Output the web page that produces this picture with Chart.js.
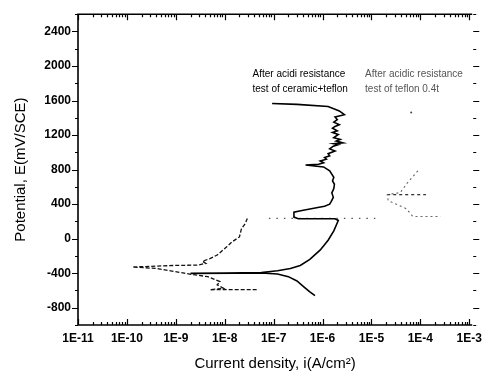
<!DOCTYPE html>
<html>
<head>
<meta charset="utf-8">
<script src="https://cdn.jsdelivr.net/npm/chart.js@4/dist/chart.umd.min.js"></script>
<style>
  html, body { margin: 0; padding: 0; background: #fff; }
  #wrap { width: 488px; height: 377px; }
</style>
</head>
<body>
<div id="wrap"><canvas id="chart"></canvas></div>
<script>
// ceramic+teflon curve (solid)
var ceramicCurrent = [7e-7, 5.5e-7, 4.2e-7, 3e-7, 2e-7, 1.2e-7, 5.6e-8, 1.5e-8, 2e-9, 1e-8, 5.6e-8,
    1.2e-7, 2.2e-7, 3.5e-7, 5.5e-7, 9e-7, 1.3e-6, 1.7e-6, 2.1e-6, 1.8e-6, 8e-7, 3.2e-7, 2.6e-7, 2.6e-7, 3.8e-7, 8e-7,
    1.1e-6, 1.4e-6, 1.5e-6, 1.66e-6, 1.55e-6, 1.7e-6, 1.75e-6, 1.6e-6, 1.7e-6, 1.4e-6, 1.05e-6,
    4.5e-7, 8.3e-7, 1.05e-6, 9e-7, 1.2e-6, 1.1e-6, 1.4e-6, 1.3e-6,
    1.8e-6, 1.4e-6, 1.66e-6, 2.1e-6, 1.7e-6, 2.6e-6, 1.9e-6, 2.3e-6, 1.7e-6, 2.1e-6, 1.6e-6,
    2.0e-6, 1.6e-6, 1.8e-6, 2.2e-6, 1.7e-6, 2.0e-6, 1.8e-6,
    2.8e-6, 2.2e-6, 1.3e-6, 3e-7, 9.3e-8];
var ceramicPotential = [-661, -615, -560, -490, -440, -410, -398, -400, -402, -397, -392,
    -372, -345, -310, -240, -130, -18, 90, 211, 231, 231, 231, 250, 307, 326, 360,
    375, 400, 430, 479, 530, 580, 630, 670, 710, 785, 831,
    854, 862, 880, 900, 920, 940, 960, 985,
    1015, 1040, 1072, 1090, 1100, 1110, 1130, 1150, 1170, 1207, 1230,
    1250, 1280, 1300, 1320, 1350, 1380, 1410,
    1436, 1480, 1531, 1555, 1566];

// teflon 0.4t curve (dashed), left part
var teflonCurrent = [4.5e-8, 9.5e-9, 5e-9, 9.5e-9, 7e-9, 8e-9, 4.5e-9, 2.5e-9, 1.5e-9, 4e-10,
    1.3e-10, 1e-9, 2.8e-9, 4.1e-9, 3.5e-9, 5.1e-9, 7e-9, 1.1e-8, 1.4e-8, 2e-8, 2.2e-8, 2.6e-8, 2.9e-8];
var teflonPotential = [-590, -590, -592, -575, -535, -497, -440, -420, -400, -345,
    -328, -310, -306, -286, -262, -229, -190, -95, -38, 20, 116, 170, 234];

// current jump of the teflon curve (dotted)
var jumpCurrent = [8e-8, 1.2e-5];
var jumpPotential = [235, 235];

// teflon curve, right part (grey)
var rightCurrent = [8.9e-5, 5.5e-5, 3.9e-5, 2.1e-5, 2.2e-5, 5.2e-5, 7e-5, 2.6e-4];
var rightPotential = [786, 650, 534, 510, 441, 346, 257, 257];
var shelfCurrent = [2.1e-5, 1.3e-4];
var shelfPotential = [510, 510];
var dotCurrent = [6.5e-5];
var dotPotential = [1462];

var xTickValues = [1e-11, 1e-10, 1e-9, 1e-8, 1e-7, 1e-6, 1e-5, 1e-4, 1e-3];
var yTickValues = [-800, -400, 0, 400, 800, 1200, 1600, 2000, 2400];

var FONT = '"Liberation Sans", Arial, sans-serif';

function pairs(xs, ys) {
    return xs.map(function (x, i) { return { x: x, y: ys[i] }; });
}

// frame, inward/outward tick marks and the two labels
var framePlugin = {
    id: 'frame',
    afterDraw: function (chart) {
        var ctx = chart.ctx;
        var a = chart.chartArea;
        var xs = chart.scales.x, ys = chart.scales.y;
        ctx.save();
        ctx.strokeStyle = '#000';
        ctx.lineWidth = 1.6;
        ctx.beginPath();
        ctx.moveTo(a.right, a.top);
        ctx.lineTo(a.left, a.top);
        ctx.lineTo(a.left, a.bottom);
        ctx.lineTo(a.right, a.bottom);
        ctx.stroke();

        ctx.lineWidth = 1.2;
        ctx.beginPath();
        for (var e = -11; e <= -3; e++) {
            for (var m = 1; m <= 9; m++) {
                var v = m * Math.pow(10, e);
                if (v > xs.max) break;
                var px = Math.round(xs.getPixelForValue(v)) + 0.5;
                var len = m === 1 ? 6 : 3;
                ctx.moveTo(px, a.bottom);
                ctx.lineTo(px, a.bottom - len);
                ctx.moveTo(px, a.top);
                ctx.lineTo(px, a.top + len);
            }
        }
        for (var y = -1000; y <= 2600; y += 200) {
            var py = Math.round(ys.getPixelForValue(y)) + 0.5;
            var l = (y % 400 === 0) ? 6 : 3;
            ctx.moveTo(a.left, py);
            ctx.lineTo(a.left - l, py);
            ctx.moveTo(a.right + 1, py);
            ctx.lineTo(a.right + 1 + l, py);
        }
        ctx.stroke();

        ctx.font = '10px ' + FONT;
        ctx.textBaseline = 'middle';
        ctx.textAlign = 'left';
        ctx.fillStyle = '#000';
        ctx.fillText('After acidi resistance', xs.getPixelForValue(3.7e-8), ys.getPixelForValue(1902));
        ctx.fillText('test of ceramic+teflon', xs.getPixelForValue(3.7e-8), ys.getPixelForValue(1735));
        ctx.fillStyle = '#555';
        ctx.fillText('After acidic resistance', xs.getPixelForValue(7.4e-6), ys.getPixelForValue(1902));
        ctx.fillText('test of teflon 0.4t', xs.getPixelForValue(7.4e-6), ys.getPixelForValue(1735));
        ctx.restore();
    }
};

var chart = new Chart(document.getElementById('chart'), {
    type: 'scatter',
    data: {
        datasets: [{
            label: 'ceramic+teflon',
            data: pairs(ceramicCurrent, ceramicPotential),
            showLine: true,
            borderColor: '#000',
            borderWidth: 1.6,
            pointRadius: 0
        }, {
            label: 'teflon 0.4t',
            data: pairs(teflonCurrent, teflonPotential),
            showLine: true,
            borderColor: '#111',
            borderWidth: 1.3,
            borderDash: [4, 2],
            pointRadius: 0
        }, {
            label: 'jump',
            data: pairs(jumpCurrent, jumpPotential),
            showLine: true,
            borderColor: '#555',
            borderWidth: 1.2,
            borderDash: [1.5, 6],
            pointRadius: 0
        }, {
            label: 'teflon right',
            data: pairs(rightCurrent, rightPotential),
            showLine: true,
            borderColor: '#666',
            borderWidth: 1.1,
            borderDash: [2, 3],
            pointRadius: 0
        }, {
            label: 'shelf',
            data: pairs(shelfCurrent, shelfPotential),
            showLine: true,
            borderColor: '#333',
            borderWidth: 1.3,
            borderDash: [3, 3],
            pointRadius: 0
        }, {
            label: 'dot',
            data: pairs(dotCurrent, dotPotential),
            showLine: false,
            backgroundColor: '#444',
            borderWidth: 0,
            pointRadius: 1
        }]
    },
    options: {
        responsive: true,
        maintainAspectRatio: false,
        animation: false,
        layout: { padding: { top: 12, right: 8, left: 0, bottom: 0 } },
        plugins: {
            legend: { display: false },
            tooltip: { enabled: false }
        },
        scales: {
            x: {
                type: 'logarithmic',
                min: 1e-11,
                max: 1.15e-3,
                grid: { display: false, drawTicks: false },
                border: { display: false },
                afterBuildTicks: function (scale) {
                    scale.ticks = xTickValues.map(function (v) { return { value: v }; });
                },
                afterFit: function (scale) { scale.height = 52; },
                ticks: {
                    autoSkip: false,
                    maxRotation: 0,
                    padding: 6,
                    color: '#000',
                    font: { family: FONT, size: 12, weight: 'bold' },
                    callback: function (v) { return '1E' + Math.round(Math.log10(v)); }
                },
                title: {
                    display: true,
                    text: 'Current density, i(A/cm²)',
                    color: '#000',
                    font: { family: FONT, size: 15 },
                    padding: { top: 0, bottom: 4 }
                }
            },
            y: {
                min: -1000,
                max: 2600,
                grid: { display: false, drawTicks: false },
                border: { display: false },
                afterBuildTicks: function (scale) {
                    scale.ticks = yTickValues.map(function (v) { return { value: v }; });
                },
                afterFit: function (scale) { scale.width = 78; },
                ticks: {
                    padding: 7,
                    color: '#000',
                    font: { family: FONT, size: 12, weight: 'bold' },
                    callback: function (v) { return String(v); }
                },
                title: {
                    display: true,
                    text: 'Potential, E(mV/SCE)',
                    color: '#000',
                    font: { family: FONT, size: 15 },
                    padding: { top: 12, bottom: 0 }
                }
            }
        }
    },
    plugins: [framePlugin]
});
</script>
</body>
</html>
